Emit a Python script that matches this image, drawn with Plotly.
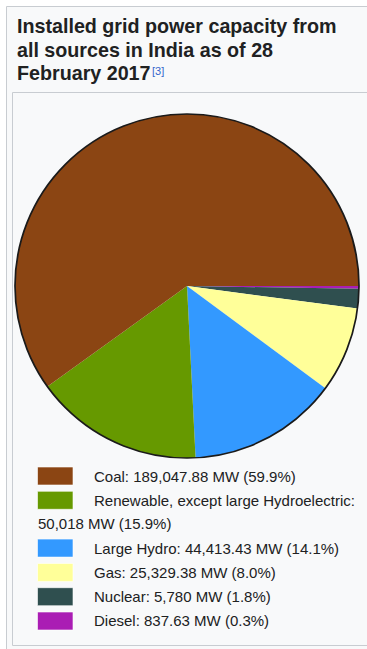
import plotly.graph_objects as go

# Installed grid capacity by source (MW), India, 28 February 2017
sources = ["Coal", "Renewable, except large Hydroelectric", "Large Hydro", "Gas", "Nuclear", "Diesel"]
capacity_mw = [189047.88, 50018, 44413.43, 25329.38, 5780, 837.63]
colors = ["#8B4513", "#669900", "#3399FF", "#FFFF99", "#2F4F4F", "#AA1DB4"]

W, H = 367, 649
FONT = "Liberation Sans, Arial, sans-serif"
TEXT = "#202122"


def px(x):
    return x / W


def py(y):
    return 1 - y / H


# pie circle geometry in page pixels
cx, cy, r = 187, 286, 172
dom_x = [px(cx - r), px(cx + r)]
dom_y = [py(cy + r), py(cy - r)]

fig = go.Figure()
# slices run counterclockwise from 3 o'clock starting with coal; drawing the
# reversed series clockwise from 3 o'clock gives the same arrangement
fig.add_trace(go.Pie(
    labels=sources[::-1], values=capacity_mw[::-1], sort=False,
    direction="clockwise", rotation=90,
    marker=dict(colors=colors[::-1], line=dict(width=0)),
    textinfo="none", textposition="none", hoverinfo="label+value+percent",
    showlegend=False, domain=dict(x=dom_x, y=dom_y),
))
# dark rim around the pie
fig.add_trace(go.Pie(
    labels=["rim"], values=[1], sort=False,
    marker=dict(colors=["rgba(0,0,0,0)"], line=dict(color="#1a1a1a", width=1.7)),
    textinfo="none", textposition="none", hoverinfo="skip",
    showlegend=False, domain=dict(x=dom_x, y=dom_y),
))

shapes = [
    # outer caption box
    dict(type="rect", xref="paper", yref="paper", layer="below",
         x0=px(6.5), x1=px(380), y0=py(6.5), y1=py(660),
         fillcolor="#f8f9fa", line=dict(color="#c8ccd1", width=1)),
    # inner chart box
    dict(type="rect", xref="paper", yref="paper", layer="below",
         x0=px(12.5), x1=px(380), y0=py(92.5), y1=py(645.5),
         fillcolor="#f8f9fa", line=dict(color="#c8ccd1", width=1)),
]

annotations = []
title_lines = [
    ("<b>Installed grid power capacity from</b>", 26.5),
    ("<b>all sources in India as of 28</b>", 49.8),
    ("<b>February 2017</b>", 73.1),
]
for txt, yc in title_lines:
    annotations.append(dict(
        x=px(15), y=py(yc), xref="paper", yref="paper", xanchor="left", yanchor="middle",
        text=txt, showarrow=False, font=dict(family=FONT, size=19.7, color=TEXT)))
annotations.append(dict(
    x=px(150), y=py(71), xref="paper", yref="paper", xanchor="left", yanchor="middle",
    text="[3]", showarrow=False, font=dict(family=FONT, size=11, color="#3366cc")))

total = sum(capacity_mw)


def fmt(v):
    return f"{v:,.0f}" if float(v).is_integer() else f"{v:,.2f}"


# key: swatch + caption per source; the long caption wraps to a second line
row_y = 476
for name, v, c in zip(sources, capacity_mw, colors):
    value_txt = f"{fmt(v)} MW ({100 * v / total:.1f}%)"
    shapes.append(dict(
        type="rect", xref="paper", yref="paper",
        x0=px(37.5), x1=px(73), y0=py(row_y - 9), y1=py(row_y + 9),
        fillcolor=c, line=dict(color="rgba(255,255,255,0.6)", width=1)))
    wrap = len(name) > 20
    first = f"{name}:" if wrap else f"{name}: {value_txt}"
    annotations.append(dict(
        x=px(92), y=py(row_y), xref="paper", yref="paper", xanchor="left", yanchor="middle",
        text=first, showarrow=False, font=dict(family=FONT, size=15, color=TEXT)))
    if wrap:
        row_y += 23.5
        annotations.append(dict(
            x=px(36), y=py(row_y), xref="paper", yref="paper", xanchor="left", yanchor="middle",
            text=value_txt, showarrow=False, font=dict(family=FONT, size=15, color=TEXT)))
    row_y += 24.3

fig.update_layout(
    width=W, height=H, margin=dict(l=0, r=0, t=0, b=0),
    paper_bgcolor="white", plot_bgcolor="white",
    shapes=shapes, annotations=annotations, showlegend=False,
)

fig.write_html("out.html", config={"displayModeBar": False})
